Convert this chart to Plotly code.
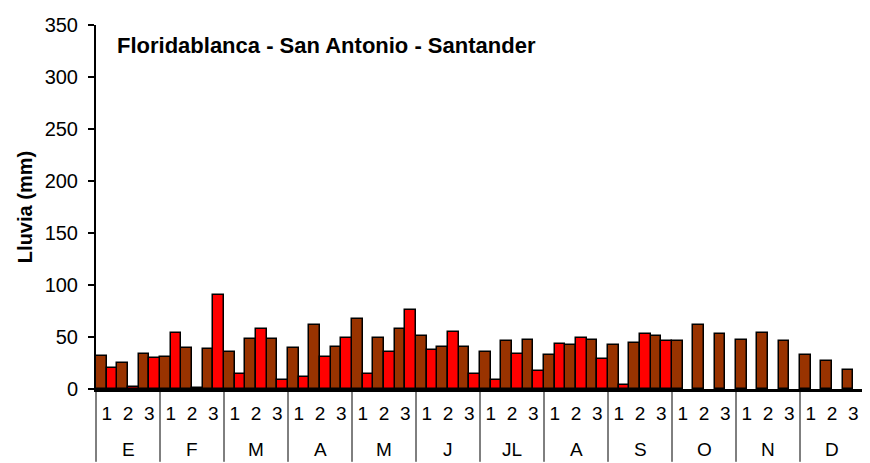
import plotly.graph_objects as go

months = ["E", "F", "M", "A", "M", "J", "JL", "A", "S", "O", "N", "D"]
dekads = ["1", "2", "3"]

historico = [32, 25, 34, 31, 39, 38, 36, 48, 48, 39, 61.5, 40.5,
             67, 49.5, 57.5, 51, 40.5, 40.5, 35.5, 46, 47, 32.5, 42, 47,
             42, 44.5, 51, 46, 61.5, 52.5, 47, 53.5, 46, 32.5, 26.5, 18]
actual = [20.5, 2, 30, 53.5, 1, 90.5, 14, 57.5, 9, 11.5, 31, 49.5,
          14, 35.5, 75.5, 37.5, 55, 14, 9, 34, 17, 43, 49.5, 28.5,
          3.5, 52.5, 46, None, None, None, None, None, None, None, None, None]

# unique category keys (month index + dekad), shown with dekad numbers
keys = [f"{mi}-{d}" for mi in range(len(months)) for d in dekads]
key_text = [d for _ in months for d in dekads]
ncat = len(keys)

FONT = "Arial, Liberation Sans, sans-serif"

fig = go.Figure()
fig.add_trace(go.Bar(x=keys, y=historico, name="Histórico",
                     marker=dict(color="#993300", line=dict(color="black", width=1.5))))
fig.add_trace(go.Bar(x=keys, y=actual, name="Actual",
                     marker=dict(color="#FF0000", line=dict(color="black", width=1.5))))

fig.update_layout(
    width=862, height=455,
    margin=dict(l=88, r=6, t=10, b=74),
    paper_bgcolor="white", plot_bgcolor="white",
    barmode="group", bargap=0, bargroupgap=0,
    showlegend=False,
    font=dict(family=FONT, size=19, color="black"),
)
fig.update_yaxes(range=[0, 350], dtick=50, showline=True, linecolor="black", linewidth=2,
                 ticks="outside", ticklen=6, tickwidth=1.5, tickcolor="black", showgrid=False,
                 zeroline=False, tickfont=dict(size=20), ticklabelstandoff=6,
                 ticklabeloverflow="allow",
                 title=dict(text="<b>Lluvia (mm)</b>", font=dict(size=20), standoff=7))
fig.update_xaxes(type="category", categoryorder="array", categoryarray=keys,
                 tickvals=keys, ticktext=key_text, showline=True, linecolor="black",
                 linewidth=2.5, ticks="", showgrid=False, tickfont=dict(size=19),
                 ticklabelstandoff=5)

# month group labels and dividers
for mi, m in enumerate(months):
    fig.add_annotation(text=m, xref="x", yref="paper", x=keys[mi * 3 + 1], y=-0.167,
                       xanchor="center", yanchor="middle", showarrow=False,
                       font=dict(size=19, family=FONT))
for b in range(len(months) + 1):
    fig.add_shape(type="line", xref="paper", yref="paper", x0=b * 3 / ncat, x1=b * 3 / ncat,
                  y0=0, y1=-0.2, line=dict(color="black", width=1))

fig.add_annotation(text="<b>Floridablanca - San Antonio - Santander</b>", xref="paper", yref="paper",
                   x=0.025, y=0.944, xanchor="left", yanchor="middle", showarrow=False,
                   font=dict(size=22, family=FONT))

fig.write_html("out.html")
